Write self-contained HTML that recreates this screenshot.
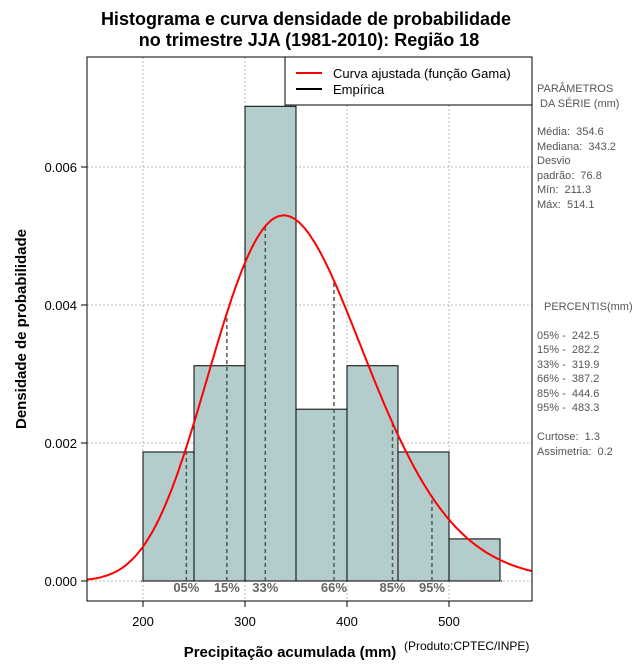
<!DOCTYPE html>
<html><head><meta charset="utf-8"><style>
body{margin:0;background:#fff;width:640px;height:660px;overflow:hidden}
text{font-family:"Liberation Sans",sans-serif;white-space:pre}
</style></head><body>
<svg id="c" width="640" height="660" xmlns="http://www.w3.org/2000/svg">
<text x="306" y="25" text-anchor="middle" font-size="18" font-weight="bold">Histograma e curva densidade de probabilidade</text>
<text x="309" y="46" text-anchor="middle" font-size="18" font-weight="bold">no trimestre JJA (1981-2010): Região 18</text>
<text x="290" y="657" text-anchor="middle" font-size="15" font-weight="bold">Precipitação acumulada (mm)</text>
<text x="404" y="650" font-size="12">(Produto:CPTEC/INPE)</text>
<text transform="translate(26,329) rotate(-90)" text-anchor="middle" font-size="15" font-weight="bold">Densidade de probabilidade</text>
<g id="plot"></g>
<g font-size="11" fill="#555">
<text x="537" y="92">PARÂMETROS</text>
<text x="540" y="107">DA SÉRIE (mm)</text>
<text x="537" y="135">Média:  354.6</text>
<text x="537" y="150">Mediana:  343.2</text>
<text x="537" y="164">Desvio</text>
<text x="537" y="179">padrão:  76.8</text>
<text x="537" y="193">Mín:  211.3</text>
<text x="537" y="208">Máx:  514.1</text>
<text x="544" y="310">PERCENTIS(mm)</text>
<text x="537" y="339">05% -  242.5</text>
<text x="537" y="353">15% -  282.2</text>
<text x="537" y="368">33% -  319.9</text>
<text x="537" y="382">66% -  387.2</text>
<text x="537" y="397">85% -  444.6</text>
<text x="537" y="411">95% -  483.3</text>
<text x="537" y="440">Curtose:  1.3</text>
<text x="537" y="455">Assimetria:  0.2</text>
</g>
</svg>
<script>
const binStarts=[200,250,300,350,400,450,500];
const binDensity=[0.00187,0.00312,0.00688,0.00249,0.00312,0.00187,0.00061];
const binWidth=50;
const meanVal=354.6, sdVal=76.8;
const pctLabels=["05%","15%","33%","66%","85%","95%"];
const pctValues=[242.5,282.2,319.9,387.2,444.6,483.3];
const xTicks=[200,300,400,500];
const yTicks=[0,0.002,0.004,0.006];
const ns="http://www.w3.org/2000/svg";
const L=87,R=532,T=57,B=601;
const X=v=>143+(v-200)*1.02;
const Y=v=>581-v*69000;
const g=document.getElementById('plot');
function mk(t,a){const e=document.createElementNS(ns,t);for(const k in a)e.setAttribute(k,a[k]);g.appendChild(e);return e;}
function lgamma(z){const c=[76.18009172947146,-86.50532032941677,24.01409824083091,-1.231739572450155,0.1208650973866179e-2,-0.5395239384953e-5];let x=z,y=z,t=x+5.5;t-=(x+0.5)*Math.log(t);let s=1.000000000190015;for(const q of c)s+=q/++y;return -t+Math.log(2.5066282746310005*s/x);}
const k=(meanVal/sdVal)**2, th=sdVal*sdVal/meanVal, lg=lgamma(k);
const dens=x=>Math.exp((k-1)*Math.log(x)-x/th-lg-k*Math.log(th));
xTicks.forEach(v=>{const e=mk('line',{x1:X(v),x2:X(v),y1:T,y2:B,stroke:'#bbb','stroke-dasharray':'2,2'});});
yTicks.forEach(v=>{const e=mk('line',{x1:L,x2:R,y1:Y(v),y2:Y(v),stroke:'#bbb','stroke-dasharray':'2,2'});});
binStarts.forEach((s,i)=>{const e=mk('rect',{x:X(s),y:Y(binDensity[i]),width:X(s+binWidth)-X(s),height:Y(0)-Y(binDensity[i]),fill:'#b3cccc',stroke:'#000','stroke-width':1});});
{const e=mk('line',{x1:X(200)-2,x2:X(550)+2,y1:Y(0),y2:Y(0),stroke:'#000','stroke-dasharray':'1,2'});}
pctValues.forEach((p,i)=>{const e=mk('line',{x1:X(p),x2:X(p),y1:Y(0),y2:Y(dens(p)),stroke:'#555','stroke-width':1.5,'stroke-dasharray':'4,3'});
const t=mk('text',{x:X(p),y:592,'text-anchor':'middle','font-size':13,'font-weight':'bold',fill:'#666','font-family':'Liberation Serif, serif'});t.textContent=pctLabels[i];});
let d='';for(let x=145;x<=582;x+=2){d+=(d?'L':'M')+X(x).toFixed(1)+','+Y(dens(x)).toFixed(1);}
const cp=document.createElementNS(ns,'clipPath');cp.setAttribute('id','cl');const cr=document.createElementNS(ns,'rect');cr.setAttribute('x',L);cr.setAttribute('y',T);cr.setAttribute('width',R-L);cr.setAttribute('height',B-T);cp.appendChild(cr);g.appendChild(cp);
{const e=mk('path',{d:d,fill:'none',stroke:'#f00','stroke-width':2,'clip-path':'url(#cl)'});}
{const e=mk('rect',{x:L,y:T,width:R-L,height:B-T,fill:'none',stroke:'#000'});}
xTicks.forEach(v=>{mk('line',{x1:X(v),x2:X(v),y1:B,y2:B+6,stroke:'#000'});const t=mk('text',{x:X(v),y:626,'text-anchor':'middle','font-size':13});t.textContent=v;});
yTicks.forEach(v=>{mk('line',{x1:L-6,x2:L,y1:Y(v),y2:Y(v),stroke:'#000'});const t=mk('text',{x:L-10,y:Y(v)+5,'text-anchor':'end','font-size':13});t.textContent=v.toFixed(3);});
{const e=mk('rect',{x:285,y:57,width:247,height:48,fill:'#fff',stroke:'#000'});}
mk('line',{x1:296,x2:322,y1:73,y2:73,stroke:'#f00','stroke-width':2});
mk('line',{x1:296,x2:322,y1:89,y2:89,stroke:'#000','stroke-width':2});
{const t=mk('text',{x:333,y:78,'font-size':13});t.textContent='Curva ajustada (função Gama)';}
{const t=mk('text',{x:333,y:94,'font-size':13});t.textContent='Empírica';}
</script>
</body></html>
